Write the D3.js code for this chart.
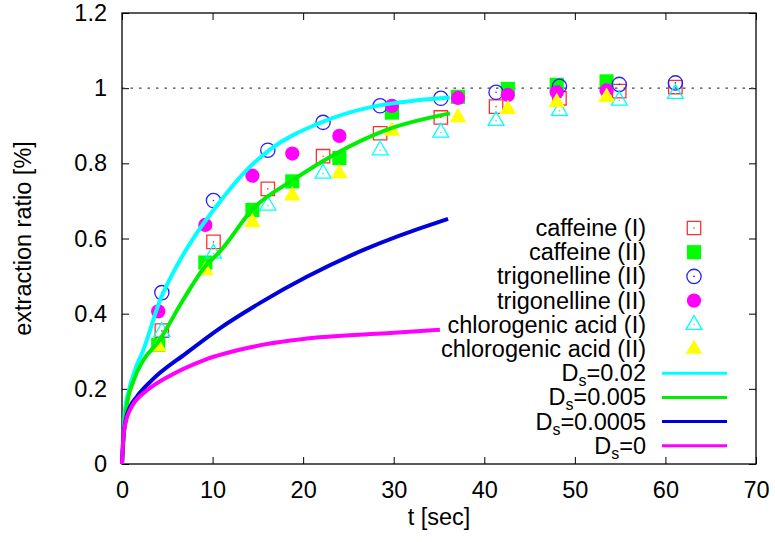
<!DOCTYPE html>
<html>
<head>
<meta charset="utf-8">
<script src="https://cdn.jsdelivr.net/npm/d3@7"></script>
<style>
  body { margin: 0; background: #fff; }
  text { font-family: "Liberation Sans", Arial, sans-serif; fill: #000; }
</style>
</head>
<body>
<div id="chart"></div>
<script>
// measurement times
const timesI  = [4.4, 10.1, 16.1, 22.2, 28.5, 35.2, 41.3, 48.3, 54.9, 61.1];
const timesII = [4.0, 9.2, 14.4, 18.8, 24.0, 29.8, 37.1, 42.6, 48.0, 53.5];

// measured extraction ratios
const caffeineI        = [0.355, 0.591, 0.732, 0.819, 0.880, 0.922, 0.951, 0.973, 0.992, 1.003];
const caffeineII       = [0.317, 0.536, 0.676, 0.752, 0.814, 0.935, 0.977, 0.998, 1.009, 1.018];
const trigonellineI    = [0.456, 0.701, 0.835, 0.909, 0.953, 0.973, 0.989, 1.005, 1.010, 1.014];
const trigonellineII   = [0.406, 0.636, 0.767, 0.826, 0.873, 0.953, 0.974, 0.982, 0.989, 0.994];
const chlorogenicI     = [0.352, 0.560, 0.688, 0.773, 0.835, 0.882, 0.913, 0.940, 0.967, 0.985];
const chlorogenicII    = [0.312, 0.515, 0.643, 0.714, 0.773, 0.886, 0.922, 0.944, 0.962, 0.976];

// model curves [t, ratio]
const curveDs002 = [[0,0],[0.15,0.06],[0.33,0.144],[0.7,0.19],[1.5,0.255],[2.35,0.303],[4.2,0.436],[6.0,0.525],
  [8.0,0.605],[10.4,0.685],[13.75,0.782],[16.3,0.836],[21.8,0.907],[27.7,0.951],[32,0.966],[36.2,0.975]];
const curveDs0005 = [[0,0],[0.15,0.06],[0.5,0.15],[1.25,0.22],[2.35,0.276],[4.0,0.325],[6.76,0.437],[9.15,0.525],
  [10.8,0.565],[14.5,0.68],[18.9,0.756],[23.7,0.827],[29.2,0.889],[36.2,0.933]];
const curveDs00005 = [[0,0],[0.15,0.07],[0.4,0.115],[0.9,0.152],[1.6,0.178],[3.3,0.223],[7.1,0.295],[10.8,0.361],
  [15.2,0.428],[20.4,0.498],[26.6,0.569],[35.1,0.645],[36.0,0.652]];
const curveDs0 = [[0,0],[0.15,0.07],[0.4,0.11],[0.9,0.145],[1.5,0.168],[2.7,0.195],[5.3,0.235],[9.0,0.276],
  [14.5,0.312],[21.8,0.337],[29.2,0.348],[35.1,0.357]];

const xTicks = [0, 10, 20, 30, 40, 50, 60, 70];
const yTicks = [0, 0.2, 0.4, 0.6, 0.8, 1, 1.2];
const pointLabels = ["caffeine (I)", "caffeine (II)", "trigonelline (II)", "trigonelline (II)",
  "chlorogenic acid (I)", "chlorogenic acid (II)"];
const curveValues = ["0.02", "0.005", "0.0005", "0"];

const width = 775, height = 542;
const margin = {top: 13, right: 19, bottom: 78, left: 122};
const plotW = width - margin.left - margin.right;
const plotH = height - margin.top - margin.bottom;
const fontSize = '23.5px';

const svg = d3.select('#chart').append('svg')
  .attr('width', width)
  .attr('height', height);

const x = d3.scaleLinear().domain([0, 70]).range([0, plotW]);
const y = d3.scaleLinear().domain([0, 1.2]).range([plotH, 0]);

const g = svg.append('g').attr('transform', `translate(${margin.left},${margin.top})`);

// axes with inward ticks
const tickLen = 7;
const fmtY = d => d3.format('~g')(d);
g.append('g').attr('transform', `translate(0,${plotH})`)
  .call(d3.axisBottom(x).tickValues(xTicks).tickSize(-tickLen).tickPadding(17))
  .call(a => a.select('.domain').remove());
g.append('g')
  .call(d3.axisLeft(y).tickValues(yTicks).tickSize(-tickLen).tickPadding(15).tickFormat(fmtY))
  .call(a => a.select('.domain').remove());
// mirror ticks
g.append('g').call(d3.axisTop(x).tickValues(xTicks).tickSize(-tickLen).tickFormat(''))
  .call(a => a.select('.domain').remove());
g.append('g').attr('transform', `translate(${plotW},0)`)
  .call(d3.axisRight(y).tickValues(yTicks).tickSize(-tickLen).tickFormat(''))
  .call(a => a.select('.domain').remove());
g.selectAll('.tick text').style('font-size', fontSize).style('font-family', '"Liberation Sans", Arial, sans-serif');
g.selectAll('.tick line').attr('stroke', '#000');

// dotted reference line at 1
g.append('line')
  .attr('x1', x(0)).attr('x2', x(70))
  .attr('y1', y(1)).attr('y2', y(1))
  .attr('stroke', '#444').attr('stroke-width', 1.3)
  .attr('stroke-dasharray', '2.5,6');

g.append('rect')
  .attr('width', plotW).attr('height', plotH)
  .attr('fill', 'none').attr('stroke', '#000').attr('stroke-width', 1.3);

// point series
const pointSeries = [
  {vals: caffeineI,      times: timesI,  type: d3.symbolSquare,   size: 180, fill: 'none',    stroke: '#ff3030', dot: true},
  {vals: caffeineII,     times: timesII, type: d3.symbolSquare,   size: 200, fill: '#00ff00', stroke: 'none'},
  {vals: trigonellineI,  times: timesI,  type: d3.symbolCircle,   size: 160, fill: 'none',    stroke: '#2020ff', dot: true},
  {vals: trigonellineII, times: timesII, type: d3.symbolCircle,   size: 160, fill: '#ff00ff', stroke: 'none'},
  {vals: chlorogenicI,   times: timesI,  type: d3.symbolTriangle, size: 110, fill: 'none',    stroke: '#00ffff', dot: true},
  {vals: chlorogenicII,  times: timesII, type: d3.symbolTriangle, size: 120, fill: '#ffff00', stroke: 'none'}
];

const curves = [
  {data: curveDs002,   color: '#00ffff'},
  {data: curveDs0005,  color: '#00ee00'},
  {data: curveDs00005, color: '#0000dd'},
  {data: curveDs0,     color: '#ff00ff'}
];

const drawMarker = (sel, s, cx, cy) => {
  sel.append('path')
    .attr('d', d3.symbol().type(s.type).size(s.size)())
    .attr('transform', `translate(${cx},${cy})`)
    .attr('fill', s.fill)
    .attr('stroke', s.stroke)
    .attr('stroke-width', 1.3);
  if (s.dot) {
    sel.append('circle').attr('cx', cx).attr('cy', cy).attr('r', 0.8).attr('fill', s.stroke);
  }
};

pointSeries.forEach(s => {
  const layer = g.append('g');
  s.vals.forEach((v, i) => drawMarker(layer, s, x(s.times[i]), y(v)));
});

const line = d3.line()
  .x(d => x(d[0]))
  .y(d => y(d[1]))
  .curve(d3.curveMonotoneX);

curves.forEach(c => {
  g.append('path')
    .datum(c.data)
    .attr('d', line)
    .attr('fill', 'none')
    .attr('stroke', c.color)
    .attr('stroke-width', 4)
    .attr('stroke-linejoin', 'round');
});

// legend
const legendTextX = 646, legendSymX = 694, legendTop = 228, rowH = 24.2;
const legend = svg.append('g');
pointLabels.forEach((label, i) => {
  const cy = legendTop + i * rowH;
  legend.append('text')
    .attr('x', legendTextX).attr('y', cy + 8)
    .attr('text-anchor', 'end')
    .style('font-size', fontSize)
    .text(label);
  drawMarker(legend, pointSeries[i], legendSymX, cy);
});
curveValues.forEach((val, j) => {
  const cy = legendTop + (pointLabels.length + j) * rowH;
  const t = legend.append('text')
    .attr('x', legendTextX).attr('y', cy + 8)
    .attr('text-anchor', 'end')
    .style('font-size', fontSize);
  t.append('tspan').text('D');
  t.append('tspan').attr('dy', 5).style('font-size', '16px').text('s');
  t.append('tspan').attr('dy', -5).text('=' + val);
  legend.append('line')
    .attr('x1', 662).attr('x2', 727)
    .attr('y1', cy).attr('y2', cy)
    .attr('stroke', curves[j].color)
    .attr('stroke-width', 3);
});

// axis titles
svg.append('text')
  .attr('x', margin.left + plotW / 2).attr('y', 525)
  .attr('text-anchor', 'middle')
  .style('font-size', fontSize)
  .text('t [sec]');
svg.append('text')
  .attr('transform', `translate(31,${margin.top + plotH / 2}) rotate(-90)`)
  .attr('text-anchor', 'middle')
  .style('font-size', fontSize)
  .text('extraction ratio [%]');
</script>
</body>
</html>
